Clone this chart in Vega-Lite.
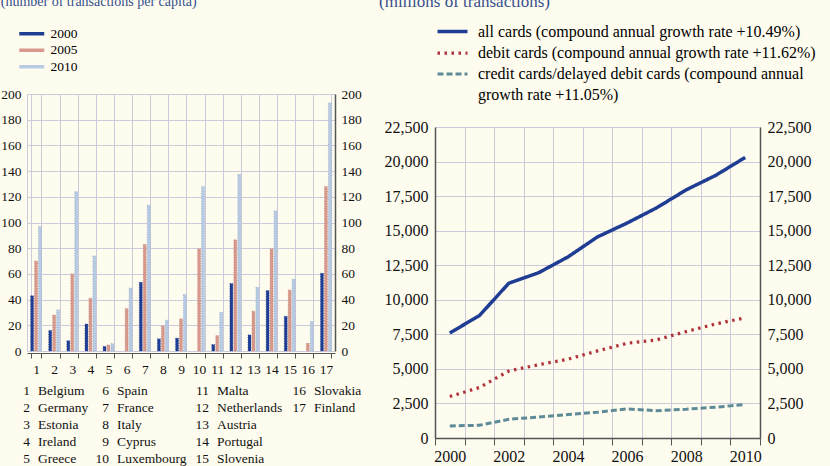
{
  "$schema": "https://vega.github.io/schema/vega-lite/v6.json",
  "background": "#FEFCEE",
  "padding": {"left": 0, "top": -7, "right": 15, "bottom": 1},
  "config": {
    "font": "Liberation Serif",
    "view": {"stroke": null},
    "axis": {
      "labelFont": "Liberation Serif",
      "labelColor": "#111111",
      "gridColor": "#CDCADC",
      "gridWidth": 1,
      "title": null
    },
    "legend": {"padding": 0, "titlePadding": 0},
    "style": {"guide-label": {"lineHeight": 21}}
  },
  "datasets": {
    "percapita": [
      {"n": 1, "year": "2000", "v": 43}, {"n": 1, "year": "2005", "v": 70}, {"n": 1, "year": "2010", "v": 97},
      {"n": 2, "year": "2000", "v": 16}, {"n": 2, "year": "2005", "v": 28}, {"n": 2, "year": "2010", "v": 32},
      {"n": 3, "year": "2000", "v": 8}, {"n": 3, "year": "2005", "v": 60}, {"n": 3, "year": "2010", "v": 124},
      {"n": 4, "year": "2000", "v": 21}, {"n": 4, "year": "2005", "v": 41}, {"n": 4, "year": "2010", "v": 74},
      {"n": 5, "year": "2000", "v": 3.6}, {"n": 5, "year": "2005", "v": 4.7}, {"n": 5, "year": "2010", "v": 5.7},
      {"n": 6, "year": "2005", "v": 33}, {"n": 6, "year": "2010", "v": 49},
      {"n": 7, "year": "2000", "v": 53.5}, {"n": 7, "year": "2005", "v": 83}, {"n": 7, "year": "2010", "v": 113.5},
      {"n": 8, "year": "2000", "v": 9.5}, {"n": 8, "year": "2005", "v": 19.5}, {"n": 8, "year": "2010", "v": 24},
      {"n": 9, "year": "2000", "v": 10}, {"n": 9, "year": "2005", "v": 25}, {"n": 9, "year": "2010", "v": 44},
      {"n": 10, "year": "2005", "v": 79.5}, {"n": 10, "year": "2010", "v": 128},
      {"n": 11, "year": "2000", "v": 5}, {"n": 11, "year": "2005", "v": 12}, {"n": 11, "year": "2010", "v": 30},
      {"n": 12, "year": "2000", "v": 52.5}, {"n": 12, "year": "2005", "v": 86.5}, {"n": 12, "year": "2010", "v": 137.5},
      {"n": 13, "year": "2000", "v": 12.5}, {"n": 13, "year": "2005", "v": 31}, {"n": 13, "year": "2010", "v": 49.5},
      {"n": 14, "year": "2000", "v": 47}, {"n": 14, "year": "2005", "v": 79.5}, {"n": 14, "year": "2010", "v": 109},
      {"n": 15, "year": "2000", "v": 27}, {"n": 15, "year": "2005", "v": 47.5}, {"n": 15, "year": "2010", "v": 56},
      {"n": 16, "year": "2005", "v": 6}, {"n": 16, "year": "2010", "v": 23},
      {"n": 17, "year": "2000", "v": 60.5}, {"n": 17, "year": "2005", "v": 128}, {"n": 17, "year": "2010", "v": 193}
    ],
    "countries": [
      {"n": 1, "name": "Belgium"}, {"n": 2, "name": "Germany"}, {"n": 3, "name": "Estonia"},
      {"n": 4, "name": "Ireland"}, {"n": 5, "name": "Greece"}, {"n": 6, "name": "Spain"},
      {"n": 7, "name": "France"}, {"n": 8, "name": "Italy"}, {"n": 9, "name": "Cyprus"},
      {"n": 10, "name": "Luxembourg"}, {"n": 11, "name": "Malta"}, {"n": 12, "name": "Netherlands"},
      {"n": 13, "name": "Austria"}, {"n": 14, "name": "Portugal"}, {"n": 15, "name": "Slovenia"},
      {"n": 16, "name": "Slovakia"}, {"n": 17, "name": "Finland"}
    ],
    "volumes": [
      {"year": "2000", "series": "all", "v": 7600}, {"year": "2001", "series": "all", "v": 8850},
      {"year": "2002", "series": "all", "v": 11200}, {"year": "2003", "series": "all", "v": 11950},
      {"year": "2004", "series": "all", "v": 13100}, {"year": "2005", "series": "all", "v": 14550},
      {"year": "2006", "series": "all", "v": 15550}, {"year": "2007", "series": "all", "v": 16650},
      {"year": "2008", "series": "all", "v": 17950}, {"year": "2009", "series": "all", "v": 19000},
      {"year": "2010", "series": "all", "v": 20300},
      {"year": "2000", "series": "debit", "v": 3000}, {"year": "2001", "series": "debit", "v": 3650},
      {"year": "2002", "series": "debit", "v": 4850}, {"year": "2003", "series": "debit", "v": 5300},
      {"year": "2004", "series": "debit", "v": 5700}, {"year": "2005", "series": "debit", "v": 6300},
      {"year": "2006", "series": "debit", "v": 6850}, {"year": "2007", "series": "debit", "v": 7100},
      {"year": "2008", "series": "debit", "v": 7700}, {"year": "2009", "series": "debit", "v": 8250},
      {"year": "2010", "series": "debit", "v": 8700},
      {"year": "2000", "series": "credit", "v": 870}, {"year": "2001", "series": "credit", "v": 920},
      {"year": "2002", "series": "credit", "v": 1350}, {"year": "2003", "series": "credit", "v": 1520},
      {"year": "2004", "series": "credit", "v": 1700}, {"year": "2005", "series": "credit", "v": 1870},
      {"year": "2006", "series": "credit", "v": 2100}, {"year": "2007", "series": "credit", "v": 1980},
      {"year": "2008", "series": "credit", "v": 2080}, {"year": "2009", "series": "credit", "v": 2230},
      {"year": "2010", "series": "credit", "v": 2420}
    ]
  },
  "spacing": 17,
  "resolve": {
    "scale": {"x": "independent", "y": "independent", "color": "independent", "fill": "independent", "stroke": "independent", "strokeDash": "independent", "strokeWidth": "independent"},
    "legend": {"color": "independent", "fill": "independent", "stroke": "independent", "strokeDash": "independent", "strokeWidth": "independent"}
  },
  "hconcat": [
    {
      "spacing": 6,
      "resolve": {
        "scale": {"x": "independent", "y": "independent", "fill": "independent", "stroke": "independent"},
        "legend": {"fill": "independent", "stroke": "independent"}
      },
      "vconcat": [
        {
          "width": 308,
          "height": 257,
          "title": {
            "text": "(number of transactions per capita)",
            "anchor": "start",
            "fontSize": 14,
            "fontWeight": "normal",
            "color": "#34508F",
            "offset": 18
          },
          "data": {"name": "percapita"},
          "layer": [
            {
              "mark": {"type": "bar", "strokeWidth": 0.7, "strokeDash": [1, 1.5]},
              "encoding": {
                "x": {
                  "field": "n",
                  "type": "ordinal",
                  "scale": {"paddingInner": 0.4, "paddingOuter": 0.2},
                  "axis": {
                    "labelAngle": 0,
                    "labelFontSize": 13.5,
                    "labelPadding": 4,
                    "tickBand": "extent",
                    "tickSize": 5,
                    "tickColor": "#555555",
                    "domainColor": "#555555",
                    "offset": 2,
                    "grid": true
                  }
                },
                "xOffset": {
                  "field": "year",
                  "type": "nominal",
                  "scale": {"paddingInner": 0.25, "paddingOuter": 0}
                },
                "y": {
                  "field": "v",
                  "type": "quantitative",
                  "scale": {"domain": [0, 200], "nice": false},
                  "axis": {
                    "orient": "left",
                    "values": [0, 20, 40, 60, 80, 100, 120, 140, 160, 180, 200],
                    "labelFontSize": 13.5,
                    "ticks": false,
                    "labelPadding": 6,
                    "domainColor": "#CDCADC",
                    "grid": true
                  }
                },
                "fill": {
                  "field": "year",
                  "type": "nominal",
                  "scale": {"range": ["#1F3E93", "#D8988C", "#B8CBE2"]},
                  "legend": {
                    "orient": "none",
                    "legendX": -2,
                    "legendY": -67,
                    "title": null,
                    "symbolType": "M-2,-0.28H2V0.28H-2Z",
                    "symbolSize": 156,
                    "symbolStrokeWidth": 0,
                    "labelFontSize": 13.5,
                    "labelOffset": 12,
                    "rowPadding": 1.5
                  }
                },
                "stroke": {
                  "field": "year",
                  "type": "nominal",
                  "scale": {"range": ["#1F3E93", "#C08276", "#8CA6C8"]},
                  "legend": null
                }
              }
            },
            {
              "mark": {"type": "point", "opacity": 0},
              "encoding": {
                "x": {"field": "n", "type": "ordinal"},
                "y": {
                  "field": "v",
                  "type": "quantitative",
                  "axis": {
                    "orient": "right",
                    "values": [0, 20, 40, 60, 80, 100, 120, 140, 160, 180, 200],
                    "labelFontSize": 13.5,
                    "ticks": false,
                    "labelPadding": 6,
                    "domainColor": "#555555",
                    "domainWidth": 1.5,
                    "grid": false
                  }
                }
              }
            }
          ],
          "resolve": {"axis": {"y": "independent"}}
        },
        {
          "width": 308,
          "height": {"step": 17},
          "data": {"name": "countries"},
          "transform": [
            {"calculate": "floor((datum.n - 1) / 5) + 1", "as": "col"},
            {"calculate": "(datum.n - 1) % 5 + 1", "as": "row"}
          ],
          "encoding": {
            "x": {
              "field": "col",
              "type": "quantitative",
              "scale": {"domain": [1, 2, 3, 4], "range": [11, 90, 190, 287], "nice": false, "zero": false},
              "axis": null
            },
            "y": {
              "field": "row",
              "type": "ordinal",
              "scale": {"type": "point", "padding": 0.5},
              "axis": null
            }
          },
          "layer": [
            {
              "mark": {"type": "text", "align": "right", "dx": -8, "fontSize": 13.5, "color": "#111111"},
              "encoding": {"text": {"field": "n", "type": "nominal"}}
            },
            {
              "mark": {"type": "text", "align": "left", "fontSize": 13.5, "color": "#111111"},
              "encoding": {"text": {"field": "name", "type": "nominal"}}
            }
          ]
        }
      ]
    },
    {
      "spacing": 16,
      "resolve": {
        "scale": {"x": "independent", "y": "independent", "color": "independent", "strokeDash": "independent", "strokeWidth": "independent"},
        "legend": {"color": "independent", "strokeDash": "independent", "strokeWidth": "independent"}
      },
      "vconcat": [
        {
          "width": 325,
          "height": 1,
          "title": {
            "text": "(millions of transactions)",
            "anchor": "start",
            "fontSize": 17,
            "fontWeight": "normal",
            "color": "#34508F",
            "offset": 11,
            "dx": -56
          },
          "data": {"name": "volumes"},
          "mark": {"type": "line", "opacity": 0},
          "encoding": {
            "x": {"field": "year", "type": "ordinal", "axis": null},
            "y": {"field": "v", "type": "quantitative", "axis": null},
            "color": {
              "field": "series",
              "type": "nominal",
              "scale": {
                "domain": ["all", "debit", "credit"],
                "range": ["#1F3E93", "#B0323A", "#5E8B98"]
              },
              "legend": {
                "orient": "none",
                "legendX": 8,
                "legendY": -72,
                "title": null,
                "symbolType": "M-2,0H2",
                "symbolSize": 225,
                "symbolOpacity": 1,
                "labelFontSize": 16,
                "labelOffset": 16,
                "labelLimit": 400,
                "rowPadding": 3.5,
                "labelExpr": "datum.value == 'all' ? 'all cards (compound annual growth rate +10.49%)' : datum.value == 'debit' ? 'debit cards (compound annual growth rate +11.62%)' : ['credit cards/delayed debit cards (compound annual', 'growth rate +11.05%)']"
              }
            },
            "strokeDash": {
              "field": "series",
              "type": "nominal",
              "scale": {
                "domain": ["all", "debit", "credit"],
                "range": [[1, 0], [2.5, 4.5], [6, 3]]
              }
            },
            "strokeWidth": {
              "field": "series",
              "type": "nominal",
              "scale": {"domain": ["all", "debit", "credit"], "range": [3.5, 3, 4]}
            }
          }
        },
        {
          "width": 325,
          "height": 311,
          "data": {"name": "volumes"},
          "layer": [
            {
              "mark": {"type": "line", "strokeCap": "butt"},
              "encoding": {
                "x": {
                  "field": "year",
                  "type": "ordinal",
                  "scale": {"type": "band", "padding": 0},
                  "axis": {
                    "labelAngle": 0,
                    "labelFontSize": 16,
                    "labelPadding": 3,
                    "labelExpr": "toNumber(datum.value) % 2 == 0 ? datum.label : ''",
                    "tickBand": "extent",
                    "tickSize": 7,
                    "tickColor": "#555555",
                    "domainColor": "#555555",
                    "domainWidth": 1.5,
                    "grid": true
                  }
                },
                "y": {
                  "field": "v",
                  "type": "quantitative",
                  "scale": {"domain": [0, 22500], "nice": false},
                  "axis": {
                    "orient": "left",
                    "values": [0, 2500, 5000, 7500, 10000, 12500, 15000, 17500, 20000, 22500],
                    "format": ",.0f",
                    "labelFontSize": 16,
                    "ticks": false,
                    "labelPadding": 7,
                    "domainColor": "#555555",
                    "domainWidth": 1.5,
                    "grid": true
                  }
                },
                "color": {
                  "field": "series",
                  "type": "nominal",
                  "scale": {
                    "domain": ["all", "debit", "credit"],
                    "range": ["#1F3E93", "#B0323A", "#5E8B98"]
                  },
                  "legend": null
                },
                "strokeDash": {
                  "field": "series",
                  "type": "nominal",
                  "scale": {
                    "domain": ["all", "debit", "credit"],
                    "range": [[1, 0], [2.5, 4.5], [6, 3]]
                  },
                  "legend": null
                },
                "strokeWidth": {
                  "field": "series",
                  "type": "nominal",
                  "scale": {"domain": ["all", "debit", "credit"], "range": [3.5, 3, 4]},
                  "legend": null
                }
              }
            },
            {
              "mark": {"type": "point", "opacity": 0},
              "encoding": {
                "x": {"field": "year", "type": "ordinal"},
                "y": {
                  "field": "v",
                  "type": "quantitative",
                  "axis": {
                    "orient": "right",
                    "values": [0, 2500, 5000, 7500, 10000, 12500, 15000, 17500, 20000, 22500],
                    "format": ",.0f",
                    "labelFontSize": 16,
                    "ticks": false,
                    "labelPadding": 7,
                    "domainColor": "#555555",
                    "domainWidth": 1.5,
                    "grid": false
                  }
                }
              }
            }
          ],
          "resolve": {"axis": {"y": "independent"}}
        }
      ]
    }
  ]
}
